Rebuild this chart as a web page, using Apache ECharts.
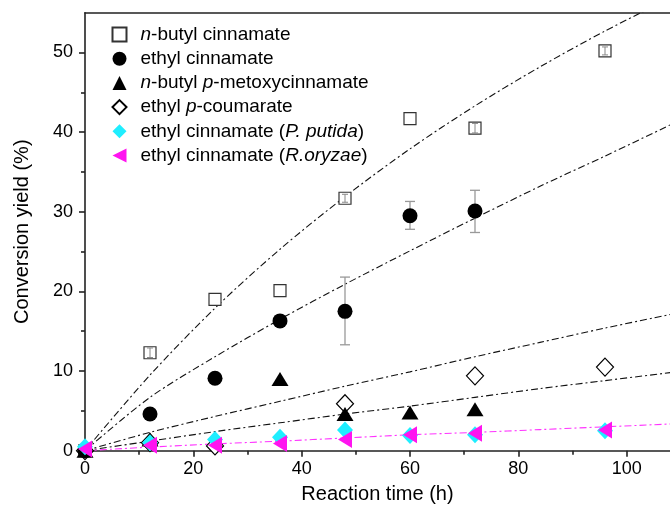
<!DOCTYPE html>
<html><head><meta charset="utf-8">
<script src="https://cdn.jsdelivr.net/npm/echarts@6/dist/echarts.min.js"></script>
<style>html,body{margin:0;padding:0;background:#fff}#c{width:670px;height:515px}</style>
</head><body><div id="c"></div><script>
const FONT = '"Liberation Sans", Arial, sans-serif';

// ---- data ----
const times = [0, 12, 24, 36, 48, 60, 72, 96];
const nButylCinnamate    = [0, 12.3, 19.0, 20.1, 31.7, 41.7, 40.5, 50.2];
const nButylCinnamateErr = [null, 0.6, null, null, 0.5, null, 0.6, 0.5];
const ethylCinnamate     = [0, 4.6, 9.1, 16.3, 17.5, 29.5, 30.1, null];
const ethylCinnamateLow  = [null, null, null, null, 13.3, 27.8, 27.4, null];
const ethylCinnamateHigh = [null, null, null, null, 21.8, 31.3, 32.7, null];
const nButylMetoxy       = [0, 1.4, null, 9.0, 4.6, 4.8, 5.2, null];
const ethylCoumarate     = [0, 1.0, 0.6, null, 5.9, null, 9.4, 10.5];
const ethylCinnPutida    = [0.5, 1.0, 1.4, 1.7, 2.6, 1.9, 2.0, 2.5];
const ethylCinnOryzae    = [0.2, 0.7, 0.7, 0.9, 1.4, 2.0, 2.2, 2.6];

const fitTimes = [0, 12, 24, 36, 48, 60, 72, 84, 96, 108];
const fitNButylCinnamate = [0, 9.5, 17.9, 25.3, 31.9, 37.9, 43.3, 48.2, 52.7, 56.8];
const fitEthylCinnamate  = [0, 6.7, 11.8, 16.5, 20.9, 25.1, 29.2, 33.2, 37.0, 40.9];
const fitCurve3          = [0, 2.3, 4.3, 6.2, 8.1, 9.9, 11.8, 13.6, 15.4, 17.1];
const fitCurve4          = [0, 1.2, 2.4, 3.5, 4.6, 5.6, 6.7, 7.8, 8.8, 9.8];
const fitOryzae          = [0, 0.45, 0.85, 1.2, 1.6, 2.0, 2.3, 2.65, 3.0, 3.35];

const xMajorTicks = [0, 20, 40, 60, 80, 100];
const xMinorTicks = [10, 30, 50, 70, 90];
const yMajorTicks = [0, 10, 20, 30, 40, 50];
const yMinorTicks = [5, 15, 25, 35, 45];

const seriesNames = ['n-butyl cinnamate', 'ethyl cinnamate', 'n-butyl p-metoxycinnamate',
  'ethyl p-coumarate', 'ethyl cinnamate (P. putida)', 'ethyl cinnamate (R.oryzae)'];
const legendRich = {
  'n-butyl cinnamate': '{i|n}-butyl cinnamate',
  'ethyl cinnamate': 'ethyl cinnamate',
  'n-butyl p-metoxycinnamate': '{i|n}-butyl {i|p}-metoxycinnamate',
  'ethyl p-coumarate': 'ethyl {i|p}-coumarate',
  'ethyl cinnamate (P. putida)': 'ethyl cinnamate ({i|P. putida})',
  'ethyl cinnamate (R.oryzae)': 'ethyl cinnamate ({i|R.oryzae})'
};

function pairs(xs, ys) {
  const out = [];
  xs.forEach((x, i) => { if (ys[i] !== null && ys[i] !== undefined) out.push([x, ys[i]]); });
  return out;
}
function errTriples(xs, lo, hi) {
  const out = [];
  xs.forEach((x, i) => { if (lo[i] !== null && hi[i] !== null) out.push([x, lo[i], hi[i]]); });
  return out;
}
const sqErrLow = nButylCinnamate.map((v, i) => nButylCinnamateErr[i] === null ? null : v - nButylCinnamateErr[i]);
const sqErrHigh = nButylCinnamate.map((v, i) => nButylCinnamateErr[i] === null ? null : v + nButylCinnamateErr[i]);

function errRender(color, cap, lw) {
  return function (params, api) {
    const x = api.value(0), lo = api.value(1), hi = api.value(2);
    const p1 = api.coord([x, lo]), p2 = api.coord([x, hi]);
    const st = { stroke: color, lineWidth: lw };
    return { type: 'group', children: [
      { type: 'line', shape: { x1: p1[0], y1: p1[1], x2: p2[0], y2: p2[1] }, style: st },
      { type: 'line', shape: { x1: p1[0] - cap, y1: p1[1], x2: p1[0] + cap, y2: p1[1] }, style: st },
      { type: 'line', shape: { x1: p2[0] - cap, y1: p2[1], x2: p2[0] + cap, y2: p2[1] }, style: st }
    ]};
  };
}

const dashDot = [7, 3, 2, 3];
function fitLine(vals, color, z) {
  return { type: 'line', data: pairs(fitTimes, vals), smooth: 0.3, showSymbol: false, symbol: 'none',
    silent: true, z: z, clip: true,
    lineStyle: { color: color, width: 1.1, type: dashDot } };
}

const chart = echarts.init(document.getElementById('c'), null, { renderer: 'canvas' });
const axisLineStyle = { color: '#222', width: 1.6 };
chart.setOption({
  animation: false,
  backgroundColor: '#fff',
  grid: { left: 85, top: 12.7, right: 0, bottom: 64.3, containLabel: false },
  legend: {
    data: seriesNames, orient: 'vertical', left: 106.5, top: 19.5,
    itemWidth: 14, itemHeight: 14, itemGap: 4.2,
    formatter: n => legendRich[n],
    textStyle: { fontFamily: FONT, fontSize: 19, color: '#000', lineHeight: 20, padding: [0, 0, 0, 9],
      rich: { i: { fontFamily: FONT, fontSize: 19, fontStyle: 'italic', color: '#000', lineHeight: 20 } } }
  },
  xAxis: [
    { type: 'value', position: 'bottom', min: 0, max: 108, interval: 20,
      name: 'Reaction time (h)', nameLocation: 'middle', nameGap: 34,
      nameTextStyle: { fontFamily: FONT, fontSize: 20, color: '#000' },
      axisLine: { show: true, onZero: false, lineStyle: axisLineStyle },
      axisTick: { show: true, inside: false, length: 6, customValues: xMajorTicks, lineStyle: axisLineStyle },
      axisLabel: { show: true, margin: 9, customValues: xMajorTicks, fontFamily: FONT, fontSize: 18, color: '#000' },
      splitLine: { show: false } },
    { type: 'value', position: 'bottom', min: 0, max: 108, interval: 10,
      axisLine: { show: false, onZero: false },
      axisTick: { show: true, inside: false, length: 4, customValues: xMinorTicks, lineStyle: axisLineStyle },
      axisLabel: { show: false }, splitLine: { show: false } },
    { type: 'value', position: 'top', min: 0, max: 108,
      axisLine: { show: true, onZero: false, lineStyle: axisLineStyle },
      axisTick: { show: false }, axisLabel: { show: false }, splitLine: { show: false } }
  ],
  yAxis: [
    { type: 'value', position: 'left', min: 0, max: 55, interval: 10,
      name: 'Conversion yield (%)', nameLocation: 'middle', nameGap: 53, nameRotate: 90,
      nameTextStyle: { fontFamily: FONT, fontSize: 20, color: '#000' },
      axisLine: { show: true, onZero: false, lineStyle: axisLineStyle },
      axisTick: { show: true, inside: false, length: 6, customValues: yMajorTicks, lineStyle: axisLineStyle },
      axisLabel: { show: true, margin: 12, customValues: yMajorTicks, fontFamily: FONT, fontSize: 18, color: '#000' },
      splitLine: { show: false } },
    { type: 'value', position: 'left', min: 0, max: 55, interval: 5,
      axisLine: { show: false, onZero: false },
      axisTick: { show: true, inside: false, length: 4, customValues: yMinorTicks, lineStyle: axisLineStyle },
      axisLabel: { show: false }, splitLine: { show: false } }
  ],
  series: [
    fitLine(fitNButylCinnamate, '#111', 1),
    fitLine(fitEthylCinnamate, '#111', 1),
    fitLine(fitCurve3, '#111', 1),
    fitLine(fitCurve4, '#111', 1),
    fitLine(fitOryzae, '#FF33FF', 1),
    { type: 'custom', name: 'ethyl cinnamate err', renderItem: errRender('#999', 5, 1.3), z: 2, silent: true,
      encode: { x: 0, y: [1, 2] }, data: errTriples(times, ethylCinnamateLow, ethylCinnamateHigh) },
    { name: 'ethyl p-coumarate', type: 'scatter', z: 3, symbol: 'diamond', symbolSize: [17, 18],
      itemStyle: { color: '#fff', borderColor: '#000', borderWidth: 1.2, opacity: 1 },
      data: pairs(times, ethylCoumarate) },
    { name: 'n-butyl cinnamate', type: 'scatter', z: 4, symbol: 'rect', symbolSize: 12,
      itemStyle: { color: '#fff', borderColor: '#333', borderWidth: 1.2, opacity: 1 },
      data: pairs(times, nButylCinnamate) },
    { type: 'custom', name: 'n-butyl cinnamate err', renderItem: errRender('#888', 3, 1), z: 5, silent: true,
      encode: { x: 0, y: [1, 2] }, data: errTriples(times, sqErrLow, sqErrHigh) },
    { name: 'ethyl cinnamate', type: 'scatter', z: 6, symbol: 'circle', symbolSize: 15,
      itemStyle: { color: '#000', opacity: 1 }, data: pairs(times, ethylCinnamate) },
    { name: 'n-butyl p-metoxycinnamate', type: 'scatter', z: 7, symbol: 'triangle', symbolSize: [17, 14],
      itemStyle: { color: '#000', opacity: 1 }, data: pairs(times, nButylMetoxy) },
    { name: 'ethyl cinnamate (P. putida)', type: 'scatter', z: 8, symbol: 'diamond', symbolSize: [16, 17],
      itemStyle: { color: '#1FEEFF', opacity: 1 }, data: pairs(times, ethylCinnPutida) },
    { name: 'ethyl cinnamate (R.oryzae)', type: 'scatter', z: 9, symbol: 'path://M0,6 L12,0 L12,12 Z',
      symbolSize: [14, 17], itemStyle: { color: '#FF14F0', opacity: 1 }, data: pairs(times, ethylCinnOryzae) }
  ]
});
</script></body></html>
